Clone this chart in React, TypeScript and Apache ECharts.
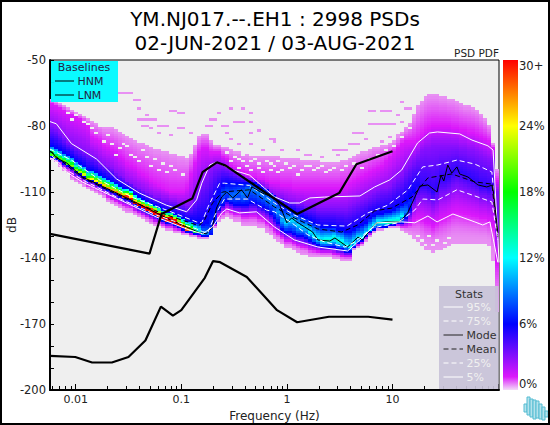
import React, { useEffect, useRef } from "react";
import * as echarts from "echarts";

const titleLines = ["YM.NJ017.--.EH1 : 2998 PSDs", "02-JUN-2021 / 03-AUG-2021"];
const xLabels = [0.01, 0.1, 1, 10];
const minorFreqs = [0.006, 0.007, 0.008, 0.009, 0.02, 0.03, 0.04, 0.05, 0.06, 0.07, 0.08, 0.09, 0.2, 0.3, 0.4, 0.5, 0.6, 0.7, 0.8, 0.9, 2, 3, 4, 5, 6, 7, 8, 9, 20, 30, 40, 50, 60, 70, 80, 90];
const hnmFreq = [0.00571, 0.05, 0.065, 0.127, 0.159, 0.217, 0.263, 1.25, 3.125, 4.55, 10];
const hnmDb = [-129, -138, -120, -113, -101, -96.5, -98, -120, -110.5, -97.4, -91.5];
const lnmFreq = [0.00571, 0.0099, 0.0143, 0.022, 0.0316, 0.0457, 0.0641, 0.0833, 0.1, 0.167, 0.2, 0.233, 0.417, 0.806, 1.25, 2.5, 5.88, 10];
const lnmDb = [-184.5, -185, -187.5, -187.5, -185, -177.5, -162.1, -166.2, -163.7, -149, -141.4, -141.9, -148.6, -163.7, -169.2, -166.7, -166.7, -168];

const paleTop = [
  -68,-69,-70,-71,-72,-73,-74,-75,-76,-77,
  -78,-79,-80,-81,-81,-81,-82,-83,-84,-85,
  -86,-87,-88,-88,-89,-90,-91,-91,-92,-92,
  -93,-93,-94,-94,-95,-93,-89,-85,-84,-84,
  -87,-89,-89,-90,-90,-91,-92,-92,-93,-93,
  -94,-94,-94,-94,-94,-94,-94,-94,-95,-95,
  -95,-95,-95,-96,-96,-96,-96,-96,-97,-97,
  -97,-97,-97,-96,-96,-95,-94,-93,-92,-92,
  -91,-90,-90,-89,-89,-88,-87,-85,-83,-81,
  -79,-75,-71,-69,-67,-66,-66,-66,-67,-67,
  -68,-68,-69,-70,-71,-71,-72,-73,-75,-77,
  -80,-88,-100];
const magentaTop = [
  -70,-71,-72,-73,-74,-75,-76,-77,-78,-80,
  -85,-86,-87,-89,-90,-91,-92,-94,-95,-97,
  -98,-99,-101,-102,-103,-105,-106,-107,-108,-109,
  -110,-110,-110,-110,-108,-102,-97,-92,-90,-90,
  -92,-92,-92,-94,-95,-98,-99,-100,-101,-102,
  -103,-103,-104,-104,-105,-106,-106,-106,-107,-107,
  -107,-108,-108,-108,-108,-108,-108,-108,-108,-108,
  -108,-108,-108,-107,-107,-106,-105,-104,-103,-102,
  -101,-100,-99,-98,-96,-94,-92,-90,-88,-87,
  -87,-87,-86,-84,-82,-81,-80,-80,-80,-80,
  -80,-81,-81,-82,-82,-83,-83,-84,-85,-86,
  -87,-90,-105];
const purpleTop = [
  -80,-81,-83,-85,-87,-88,-89,-90,-91,-92,
  -93,-94,-96,-97,-98,-99,-101,-102,-103,-105,
  -106,-107,-108,-109,-110,-111,-112,-112,-113,-113,
  -114,-114,-115,-115,-116,-116,-112,-108,-104,-102,
  -100,-98,-98,-98,-99,-100,-101,-102,-103,-104,
  -104,-105,-106,-107,-108,-110,-111,-112,-112,-113,
  -114,-114,-115,-115,-116,-116,-116,-117,-117,-117,
  -117,-117,-117,-117,-117,-116,-115,-114,-113,-112,
  -111,-110,-109,-108,-108,-107,-105,-103,-102,-99,
  -97,-95,-93,-91,-90,-90,-89,-89,-89,-89,
  -89,-89,-89,-90,-90,-91,-91,-92,-93,-94,
  -95,-96,-110];
const blueTop = [
  -89,-90,-91,-92,-93,-94,-96,-97,-98,-100,
  -100,-101,-102,-103,-104,-105,-106,-107,-108,-108,
  -109,-111,-112,-113,-114,-115,-116,-117,-118,-119,
  -119,-120,-121,-122,-123,-123,-124,-124,-125,-124,
  -119,-114,-110,-107,-106,-106,-106,-106,-106,-106,
  -106,-106,-107,-108,-109,-110,-112,-114,-116,-117,
  -118,-119,-120,-121,-122,-123,-124,-125,-126,-126,
  -126,-126,-127,-127,-128,-128,-127,-126,-125,-124,
  -122,-121,-120,-120,-119,-119,-118,-117,-116,-114,
  -112,-110,-100,-100,-100,-100,-100,-100,-100,-100,
  -100,-100,-100,-100,-100,-100,-100,-100,-100,-100,
  -100,-100,-120];
const peakDb = [
  -93,-94,-95,-96,-97,-98,-100,-101,-102,-104,
  -104,-105,-106,-107,-108,-109,-110,-111,-112,-112,
  -113,-115,-116,-117,-118,-119,-120,-121,-122,-123,
  -123,-124,-125,-126,-127,-127,-128,-128,-129,-129,
  -127,-120,-115,-111,-110,-112,-111,-110,-111,-109,
  -108,-109,-110,-111,-113,-114,-116,-119,-123,-124,
  -123,-123,-125,-126,-126,-128,-130,-131,-132,-132,
  -132,-131,-132,-133,-134,-135,-133,-131,-131,-129,
  -127,-125,-124,-124,-124,-124,-124,-123,-121,-119,
  -115,-110,-107,-107,-107,-108,-110,-108,-104,-104,
  -103,-101,-100,-101,-102,-103,-104,-105,-107,-107,
  -108,-107,-121];
const peakPct = [
  20,20,20,20,20,21,21,22,23,23,
  24,24,25,25,26,26,27,27,28,29,
  30,31,32,33,34,36,38,38,38,38,
  38,38,36,32,28,22,17,13,10,9,
  7,6.5,7,8,8,8.5,8.5,8.5,9,9,
  9,9,9,9,9,9,9,9.5,10,11,
  11,11,11,11,11,12,12,12,12.5,13,
  13,13,13,13,12,12,12,12,12,12,
  12,12,13,13,13,14,14,13,12,9,
  7,6,5.5,5,5,5,5,5,5,5,
  5,5,5,5,5,5,5,5,5,5,
  5,4.5,3.5];
const blueBottom = [
  -94,-95,-96,-97,-98,-99,-101,-102,-103,-105,
  -105,-106,-107,-108,-109,-110,-111,-112,-113,-113,
  -114,-116,-117,-118,-119,-120,-121,-122,-123,-124,
  -124,-125,-126,-127,-128,-128,-129,-129,-130,-130,
  -130,-124,-118,-116,-114,-115,-116,-116,-116,-116,
  -115,-115,-116,-117,-118,-120,-122,-124,-127,-128,
  -128,-129,-130,-130,-131,-132,-133,-134,-135,-135,
  -135,-135,-136,-136,-137,-137,-135,-133,-132,-130,
  -128,-127,-126,-126,-126,-125,-125,-124,-124,-122,
  -118,-114,-114,-114,-114,-114,-114,-114,-114,-114,
  -114,-114,-114,-114,-114,-114,-114,-114,-114,-114,
  -114,-114,-130];
const paleBottom = [
  -95,-96,-98,-100,-101,-104,-105,-106,-107,-108,
  -109,-110,-111,-112,-114,-115,-116,-117,-118,-119,
  -119,-120,-121,-122,-123,-124,-125,-125,-126,-127,
  -127,-128,-128,-129,-129,-130,-130,-131,-131,-131,
  -129,-126,-123,-122,-121,-122,-123,-123,-125,-125,
  -125,-125,-126,-126,-128,-129,-131,-132,-133,-135,
  -135,-136,-137,-138,-138,-139,-139,-139,-139,-139,
  -139,-140,-140,-141,-141,-141,-136,-135,-134,-132,
  -130,-128,-127,-127,-126,-126,-126,-126,-127,-128,
  -129,-131,-132,-134,-136,-136,-137,-136,-136,-135,
  -134,-133,-133,-133,-133,-133,-133,-133,-133,-133,
  -134,-141,-164];

const speckleBins = [17,18,19,20,21,22,22,24,30,31,32,33,22,23,24,25,26,23,24,27,28,29,27,25,32,33,30,35,45,48,50,40,41,39,40,43,44,46,47,48,50,44,50,42,52,55,56,50,53,45,47,56,58,64,65,68,62,71,72,73,74,72,75,76,77,79,76,77,78,80,81,82,83,84,85,86,80,81,83,84,85,87,89,90,88,88,87,85,83];
const speckleDb = [-65,-65,-65,-65,-68,-68,-72,-75,-73,-73,-74,-74,-77,-77,-77,-77,-77,-80,-80,-80,-80,-80,-83,-81,-81,-81,-84,-83,-72,-72,-74,-77,-77,-80,-80,-80,-80,-78,-78,-78,-78,-83,-83,-74,-82,-86,-86,-88,-91,-86,-88,-87,-91,-93,-93,-94,-91,-91,-91,-91,-91,-93,-88,-88,-88,-86,-83,-83,-83,-79,-79,-79,-79,-79,-79,-79,-73,-73,-73,-73,-73,-75,-72,-72,-69,-78,-84,-85,-87];
const holeBins = [4,8,5,12,13,16,20,14,19,23,26,30,18,58,60,62,57,64,68,70,66,55,52,48,47,50,92,93,95,96,97,99,100,94,44,46,48,49,51,52,53,54,55,45,47,50,56,57,59,61,63,65,67,69,71,73,74,76,78,6,9,10,11,15,17,21,22,24,25,27,28,29,31,33,90,88,86,84,82,80];
const holeDb = [-74,-78,-77,-80,-87,-93,-93,-84,-89,-91,-95,-98,-88,-100,-99,-102,-96,-98,-98,-100,-100,-97,-97,-96,-99,-100,-130,-132,-130,-134,-132,-133,-131,-134,-92,-94,-93,-98,-95,-99,-101,-96,-100,-96,-95,-96,-98,-101,-97,-98,-100,-98,-99,-101,-99,-100,-98,-97,-99,-75,-79,-81,-83,-88,-90,-94,-96,-94,-98,-100,-97,-101,-100,-102,-81,-85,-89,-91,-93,-95];

const p95Bin = [-0.5,1.1,4.9,11.2,16.2,22,28.8,33.9,36.4,37.7,39.7,41.4,45.5,49.7,56,59.8,62.3,64.9,68.6,77.5,81.2,85,88,92,95,97,102.6,105.7,109.7,111,112.2,112.5];
const p95Db = [-78,-79,-88,-95,-104,-110.5,-116,-119,-113.6,-106,-97.7,-96.4,-100,-102.3,-112.2,-115,-115,-112.7,-112.3,-111.8,-107.7,-104.5,-100,-87.7,-83.2,-82.7,-83.6,-86.4,-89,-90.9,-130.5,-142];
const p75Bin = [-0.5,4.9,12,20.3,28.8,36.4,37.7,39.2,42.2,43.4,49.7,56,61,66.9,74.2,79.5,84.5,89.6,93.3,97.1,101.9,106.4,110.7,112.2];
const p75Db = [-90.5,-95.5,-104.5,-112.5,-118.2,-123.6,-124,-117,-106,-106,-107,-115,-120.5,-125,-125.5,-119.5,-116,-109,-98.6,-97.7,-95.5,-97.3,-100.9,-130.5];
const meanBin = [-0.5,1.1,7.7,20.3,28.8,36.4,37.2,38.4,40.4,42.9,49.7,56,61,66.9,72.9,76.9,81.2,85.5,90.6,94.6,100.6,106.4,110.7,112.2];
const meanDb = [-91.4,-94,-103.6,-114.5,-120.4,-125,-125,-122.7,-115,-110,-109,-116.8,-121.8,-126.8,-128.2,-125,-118.6,-117.3,-112.3,-103.6,-101.8,-105.4,-106.4,-130.5];
const modeBin = [-0.5,0,1.1,3.7,7.7,12,20.3,28.8,37.2,38.9,40.4,41.4,42.7,44,45.5,47.7,49.2,50.3,53,56,57.3,59.1,60.3,61.6,63.6,65.6,66.9,69.9,71.2,74.4,77,78.2,80,81.7,84.2,87.5,89.5,92.6,94.6,96.9,97.9,98.6,99.6,100.6,101.9,102.6,104.7,107.2,109.4,110.9,112.2];
const modeDb = [-91.8,-91.8,-94.5,-96.8,-103.2,-106.8,-114,-121.8,-128.6,-129,-125.9,-117.3,-112.3,-110,-112.7,-109,-112.7,-107.7,-110.5,-112.7,-115.9,-124,-121.8,-123.6,-125.9,-128.2,-131.8,-132.3,-130.9,-135,-130.5,-131.8,-127.3,-124,-123.6,-123.6,-119.5,-107.3,-106.8,-110,-102.3,-105,-97.7,-101.4,-98.6,-101.8,-103.2,-106.8,-107.7,-106.8,-128.6];
const p25Bin = [0,3.7,7.7,16.2,26.3,36.4,37.9,39.2,41,43.4,49.2,54,56,60.3,64.4,68.6,73.7,76.2,80.5,87,91.3,93.3,97.1,101.9,106.4,110.7,112.2];
const p25Db = [-93.6,-100,-104.5,-112.3,-120.5,-126.8,-128,-128.6,-120.5,-113.2,-113.2,-118.2,-119,-124,-129.5,-132.7,-135,-132.7,-126.4,-124,-118.2,-113.2,-113.6,-109,-111.8,-114.5,-131.8];
const p5Bin = [-0.5,0.6,3.7,7.7,16.2,26.3,34.6,37.9,40.4,42.7,44,47.2,51.5,56,61,66.9,74.4,77.5,80.5,81.7,88,91.3,94.6,96.9,100.9,106.4,108.4,110.2,112.2];
const p5Db = [-94.5,-95.5,-101,-105.5,-112.8,-121.4,-127.3,-129,-125.9,-119.5,-117.7,-119.5,-119,-125.9,-131.8,-135,-136.8,-131.8,-126.4,-124,-123.6,-124,-120.9,-123.6,-120,-123.6,-125,-123.6,-142];

const colorValues = [0, 0.4, 1.2, 6, 12, 18, 24, 30];
const colorHex = ["#f3dcf8", "#e890f3", "#db18fb", "#0000ff", "#00ffff", "#00ff00", "#ffff00", "#ff0000"];
const colorbarValues = [0, 1.2, 6, 12, 18, 24, 30];
const colorbarHex = ["#f3dcf8", "#db18fb", "#0000ff", "#00ffff", "#00ff00", "#ffff00", "#ff0000"];

const FMIN = 0.00571;
const FMAX = 102;
const STEP = 0.03763;
const edgeFreq = (b: number) => FMIN * Math.pow(10, b * STEP);
const centreFreq = (b: number) => edgeFreq(b + 0.5);

function rgb(h: string) {
  return [1, 3, 5].map((i) => parseInt(h.slice(i, i + 2), 16));
}
function colourOf(v: number) {
  let i = 0;
  while (i < colorValues.length - 2 && v > colorValues[i + 1]) i++;
  const t = Math.min(1, Math.max(0, (v - colorValues[i]) / (colorValues[i + 1] - colorValues[i])));
  const a = rgb(colorHex[i]);
  const b = rgb(colorHex[i + 1]);
  return `rgb(${a.map((c, k) => Math.round(c + (b[k] - c) * t)).join(",")})`;
}

function buildCells() {
  const holes = new Set(holeBins.map((b, i) => `${b}:${holeDb[i]}`));
  const cells: number[][] = [];
  peakDb.forEach((pk, b) => {
    const val = peakPct[b];
    const knots = [
      [paleTop[b], 0.4],
      [magentaTop[b], 1.2],
      [purpleTop[b], 3],
      [blueTop[b], 6],
      [pk, val],
      [blueBottom[b], 6],
      [paleBottom[b], 0.4],
    ].filter((k, i) => (i === 3 || i === 5 ? val > 6 && (i === 3 ? k[0] > pk : k[0] < pk) : true));
    for (let db = paleTop[b]; db >= paleBottom[b]; db--) {
      if (holes.has(`${b}:${db}`)) continue;
      let v = 0.4;
      for (let k = 0; k < knots.length - 1; k++) {
        const [d0, v0] = knots[k];
        const [d1, v1] = knots[k + 1];
        if (db <= d0 && db >= d1) {
          const t = d0 === d1 ? 1 : (d0 - db) / (d0 - d1);
          v = k === knots.length - 2 ? v1 + (v0 - v1) * (1 - t) * (1 - t) : v0 + t * (v1 - v0);
          break;
        }
      }
      cells.push([edgeFreq(b), db, edgeFreq(b + 1), v]);
    }
  });
  speckleBins.forEach((b, i) => cells.push([edgeFreq(b), speckleDb[i], edgeFreq(b + 1), 0.4]));
  return cells;
}

const statLine = (bins: number[], dbs: number[], color: string, type: any, width = 1, z = 5) => ({
  type: "line",
  data: bins.map((b, i) => [centreFreq(b), dbs[i]]),
  symbol: "none",
  silent: true,
  z,
  lineStyle: { color, type, width },
  xAxisIndex: 0,
  yAxisIndex: 0,
});
const baseLine = (fs: number[], dbs: number[]) => ({
  type: "line",
  data: fs.map((f, i) => [f, dbs[i]]),
  symbol: "none",
  silent: true,
  z: 6,
  lineStyle: { color: "#000", width: 2.2 },
  xAxisIndex: 0,
  yAxisIndex: 0,
});

const FONT = "DejaVu Sans";
const txt = (text: string, x: number, y: number, fontSize: number, fill: string, align = "left", rotation?: number) => ({
  type: "text",
  x,
  y,
  rotation,
  z: 100,
  silent: true,
  style: { text, fontFamily: FONT, fontSize, fill, align, verticalAlign: "middle" },
});
const legLine = (x1: number, x2: number, y: number, stroke: string, dash?: number[]) => ({
  type: "line",
  z: 100,
  silent: true,
  shape: { x1, y1: y, x2, y2: y },
  style: { stroke, lineWidth: 1, lineDash: dash },
});

const logoBars = [[524, 404, 412], [527, 397, 415], [530, 399, 417], [533, 400, 419], [536, 401, 418], [539, 404, 419], [542, 407, 420], [545, 411, 417]];

export default function App() {
  const ref = useRef<HTMLDivElement>(null);
  useEffect(() => {
    document.body.style.margin = "0";
    const chart = echarts.init(ref.current!, undefined, { renderer: "svg", width: 550, height: 425 });
    const cells = buildCells();
    const statRows = [
      ["95%", "#f0f0f0", undefined],
      ["75%", "#f0f0f0", [5, 3]],
      ["Mode", "#333", undefined],
      ["Mean", "#333", [5, 3]],
      ["25%", "#f0f0f0", [5, 3]],
      ["5%", "#f0f0f0", undefined],
    ] as any[];
    chart.setOption({
      animation: false,
      backgroundColor: "#fff",
      textStyle: { fontFamily: FONT },
      grid: [
        { left: 50, right: 51, top: 60, bottom: 35, show: true, backgroundColor: "#efefef", borderColor: "#000", borderWidth: 1, outerBoundsMode: "none" },
        { left: 503, width: 15, top: 60, bottom: 35, show: false, outerBoundsMode: "none" },
      ],
      xAxis: [
        {
          type: "log",
          logBase: 10,
          min: FMIN,
          max: FMAX,
          gridIndex: 0,
          name: "Frequency (Hz)",
          nameLocation: "middle",
          nameGap: 18,
          nameTextStyle: { color: "#222", fontSize: 12, fontFamily: FONT },
          splitLine: { show: false },
          minorTick: { show: false },
          minorSplitLine: { show: false },
          axisLine: { show: true, lineStyle: { color: "#000", width: 2 } },
          axisTick: { show: true, inside: true, length: 6, lineStyle: { color: "#000" } },
          axisLabel: {
            color: "#222",
            fontSize: 11,
            fontFamily: FONT,
            margin: 4,
            showMinLabel: false,
            showMaxLabel: false,
            formatter: (v: number) => {
              const hit = xLabels.find((l) => Math.abs(Math.log10(v) - Math.log10(l)) < 1e-6);
              return hit === undefined ? "" : String(hit);
            },
          },
        },
        { type: "value", gridIndex: 1, min: 0, max: 1, show: false },
      ],
      yAxis: [
        {
          type: "value",
          gridIndex: 0,
          min: -200,
          max: -50,
          interval: 30,
          splitLine: { show: false },
          axisLine: { show: true, lineStyle: { color: "#000", width: 2 } },
          axisTick: { show: true, inside: true, length: 4, lineStyle: { color: "#000" } },
          minorTick: { show: true, splitNumber: 3, length: 4, lineStyle: { color: "#000" } },
          axisLabel: { color: "#222", fontSize: 11.5, fontFamily: FONT, margin: 4 },
        },
        {
          type: "value",
          gridIndex: 1,
          min: 0,
          max: 30,
          interval: 6,
          position: "right",
          splitLine: { show: false },
          axisLine: { show: false },
          axisTick: { show: false },
          axisLabel: {
            color: "#222",
            fontSize: 11.5,
            fontFamily: FONT,
            margin: 1,
            verticalAlignMinLabel: "bottom",
            verticalAlignMaxLabel: "top",
            formatter: (v: number) => (v === 30 ? "30+" : `${v}%`),
          },
        },
      ],
      series: [
        {
          type: "custom",
          data: cells,
          xAxisIndex: 0,
          yAxisIndex: 0,
          encode: { x: 0, y: 1 },
          silent: true,
          z: 1,
          renderItem: (_p: any, api: any) => {
            const a = api.coord([api.value(0), api.value(1) + 0.5]);
            const b = api.coord([api.value(2), api.value(1) - 0.5]);
            const x = Math.round(a[0]);
            const y = Math.round(a[1]);
            return {
              type: "rect",
              shape: { x, y, width: Math.round(b[0]) - x, height: Math.round(b[1]) - y },
              style: { fill: colourOf(api.value(3)) },
            };
          },
        },
        {
          type: "custom",
          data: minorFreqs.map((f) => [f, -200]),
          xAxisIndex: 0,
          yAxisIndex: 0,
          encode: { x: 0, y: 1 },
          silent: true,
          z: 7,
          renderItem: (_p: any, api: any) => {
            const a = api.coord([api.value(0), api.value(1)]);
            return {
              type: "line",
              shape: { x1: Math.round(a[0]) + 0.5, y1: a[1], x2: Math.round(a[0]) + 0.5, y2: a[1] - 4 },
              style: { stroke: "#000", lineWidth: 1 },
            };
          },
        },
        {
          type: "custom",
          data: [[0, 0, 1, 30]],
          xAxisIndex: 1,
          yAxisIndex: 1,
          encode: { x: 0, y: 1 },
          silent: true,
          renderItem: (_p: any, api: any) => {
            const a = api.coord([api.value(0), api.value(3)]);
            const b = api.coord([api.value(2), api.value(1)]);
            return {
              type: "rect",
              shape: { x: a[0], y: a[1], width: b[0] - a[0], height: b[1] - a[1] },
              style: {
                fill: new echarts.graphic.LinearGradient(0, 1, 0, 0, colorbarValues.map((v, i) => ({ offset: v / 30, color: colorbarHex[i] }))),
              },
            };
          },
        },
        baseLine(hnmFreq, hnmDb),
        baseLine(lnmFreq, lnmDb),
        statLine(p95Bin, p95Db, "#fff", "solid"),
        statLine(p75Bin, p75Db, "#fff", [5, 3]),
        statLine(meanBin, meanDb, "#000", [5, 3]),
        statLine(modeBin, modeDb, "#000", "solid"),
        statLine(p25Bin, p25Db, "#fff", [5, 3]),
        statLine(p5Bin, p5Db, "#fff", "solid"),
      ],
      graphic: {
        z: 100,
        elements: [
          txt(titleLines[0], 275, 19, 20, "#000", "center"),
          txt(titleLines[1], 275, 43, 20, "#000", "center"),
          txt("PSD PDF", 499, 53, 10.5, "#222", "right"),
          txt("dB", 12, 225, 12, "#222", "center", Math.PI / 2),
          { type: "rect", z: 100, silent: true, shape: { x: 51, y: 61, width: 67, height: 41 }, style: { fill: "rgba(0,250,255,0.96)" } },
          txt("Baselines", 84, 67.5, 11, "#224", "center"),
          legLine(55, 74, 81, "#000"),
          txt("HNM", 77.5, 81, 11, "#224"),
          legLine(55, 74, 95, "#000"),
          txt("LNM", 77.5, 95, 11, "#224"),
          { type: "rect", z: 100, silent: true, shape: { x: 439, y: 286, width: 59.5, height: 103 }, style: { fill: "rgba(200,195,216,0.93)" } },
          txt("Stats", 469, 294, 11, "#333", "center"),
          ...statRows.flatMap((r, i) => [
            legLine(443.5, 463, 307 + i * 14, r[1] === "#333" ? "#222" : "#fff", r[2]),
            txt(r[0], 466.5, 307 + i * 14, 11, r[1]),
          ]),
          ...logoBars.map((b) => ({
            type: "rect",
            z: 100,
            silent: true,
            shape: { x: b[0], y: b[1], width: 3, height: b[2] - b[1] },
            style: { fill: "#b4e2ec", stroke: "#55bcd2", lineWidth: 1 },
          })),
          { type: "rect", z: 101, silent: true, shape: { x: 1, y: 1, width: 548, height: 423 }, style: { fill: "none", stroke: "#000", lineWidth: 2 } },
        ],
      },
    });
    return () => chart.dispose();
  }, []);
  return <div ref={ref} style={{ position: "absolute", left: 0, top: 0, width: 550, height: 425 }} />;
}
